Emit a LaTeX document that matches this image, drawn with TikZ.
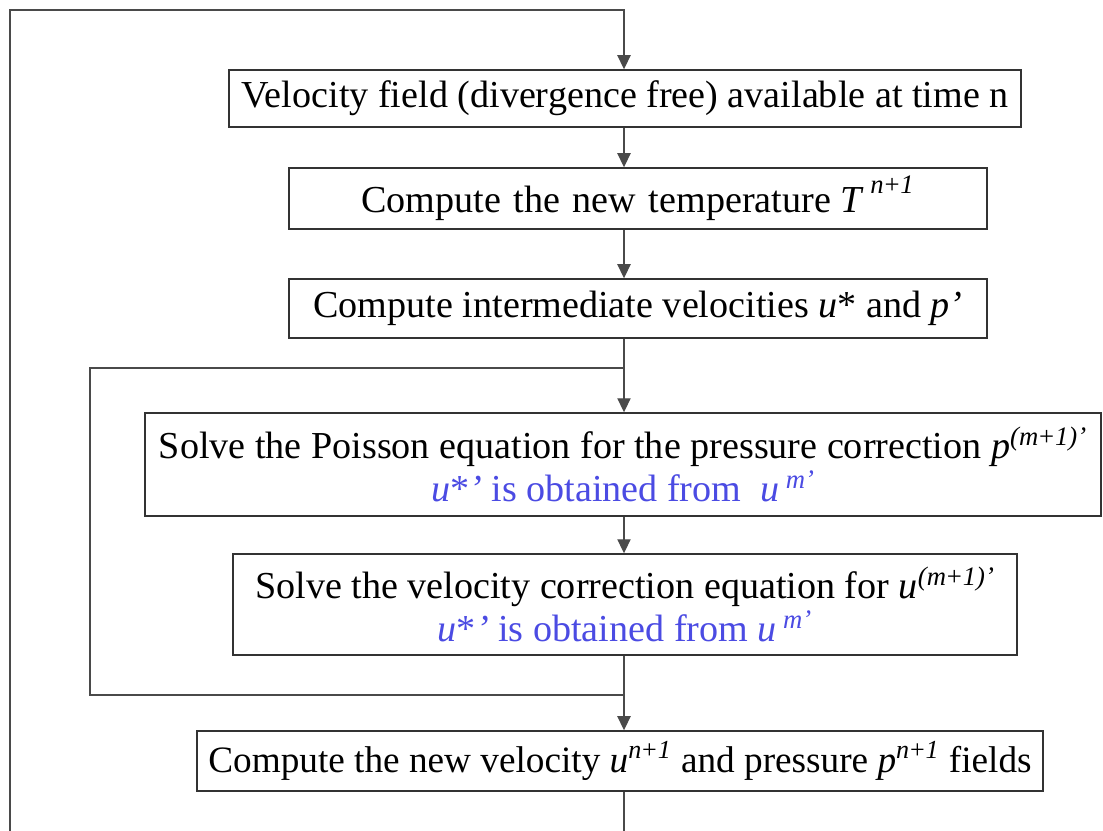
\documentclass[tikz,border=0pt]{standalone}
\usepackage{fontspec}
\setmainfont{Liberation Serif}
\usepackage{tikz}
\usetikzlibrary{arrows.meta, positioning, calc}
\definecolor{fline}{HTML}{4A4A4A}
\definecolor{fbox}{HTML}{333333}
\definecolor{fblue}{HTML}{4B4BE3}
\newcommand{\supit}[1]{\textsuperscript{\itshape #1}}

\begin{document}
\begin{tikzpicture}[x=0.02cm, y=-0.02cm,
  stepbox/.style={draw=fbox, line width=0.8pt, fill=white, inner sep=0pt,
    align=center, font=\fontsize{21.7}{24.5}\selectfont},
  flow/.style={draw=fline, line width=0.8pt},
  arr/.style={flow, -{Triangle[width=7.5pt, length=8pt]}}]

  \useasboundingbox (0,0) rectangle (1103,831);

  %% Steps
  \node[stepbox, minimum width=15.84cm, minimum height=1.14cm] (vel) at (625,98.5)
    {Velocity field (divergence free) available at time n};
  \node[stepbox, minimum width=13.96cm, minimum height=1.22cm] (temp) at (638,198.5)
    {Compute\hspace{0.33em}the\hspace{0.33em}new\hspace{0.33em}temperature \textit{T}\,\raisebox{0.15em}{\supit{n}\textsuperscript{+}\supit{1}}};
  \node[stepbox, minimum width=13.96cm, minimum height=1.18cm] (inter) at (638,308.5)
    {Compute intermediate velocities \textit{u}* and \textit{p’}};
  \node[stepbox, minimum width=19.12cm, minimum height=2.06cm] (poisson) at (623,464.5)
    {Solve the Poisson equation for the pressure correction \textit{p}\supit{(m}\textsuperscript{+}\supit{1)’}\\
     \textcolor{fblue}{\textit{u}*\textit{’} is obtained from\enspace\textit{u}\,\supit{m’}}};
  \node[stepbox, minimum width=15.68cm, minimum height=2.02cm] (vcorr) at (625,604.5)
    {Solve the velocity correction equation for \textit{u}\supit{(m}\textsuperscript{+}\supit{1)’}\\
     \textcolor{fblue}{\textit{u}*\textit{’} is obtained from \textit{u}\,\supit{m’}}};
  \node[stepbox, minimum width=16.92cm, minimum height=1.2cm, font=\fontsize{21.2}{24.5}\selectfont] (newvel) at (620,761)
    {Compute the new velocity \textit{u}\supit{n}\textsuperscript{+}\supit{1} and pressure \textit{p}\supit{n}\textsuperscript{+}\supit{1} fields};

  %% Loop corners
  \coordinate (spine) at (624,0);
  \coordinate (looptop) at (10,10);
  \coordinate (loopbot) at (10,831);
  \coordinate (split) at (624,368);
  \coordinate (join) at (624,695);
  \coordinate (innertl) at (90,368);
  \coordinate (innerbl) at (90,695);

  %% Outer loop (time step)
  \draw[arr] (loopbot) -- (looptop) -| (spine |- vel.north);
  \draw[flow] (spine |- newvel.south) -- (spine |- loopbot);

  %% Main sequence
  \draw[arr] (spine |- vel.south) -- (spine |- temp.north);
  \draw[arr] (spine |- temp.south) -- (spine |- inter.north);
  \draw[arr] (spine |- inter.south) -- (spine |- poisson.north);
  \draw[arr] (spine |- poisson.south) -- (spine |- vcorr.north);
  \draw[arr] (spine |- vcorr.south) -- (spine |- newvel.north);

  %% Inner loop (correction)
  \draw[flow] (join) -- (innerbl) -- (innertl) -- (split);

\end{tikzpicture}
\end{document}
